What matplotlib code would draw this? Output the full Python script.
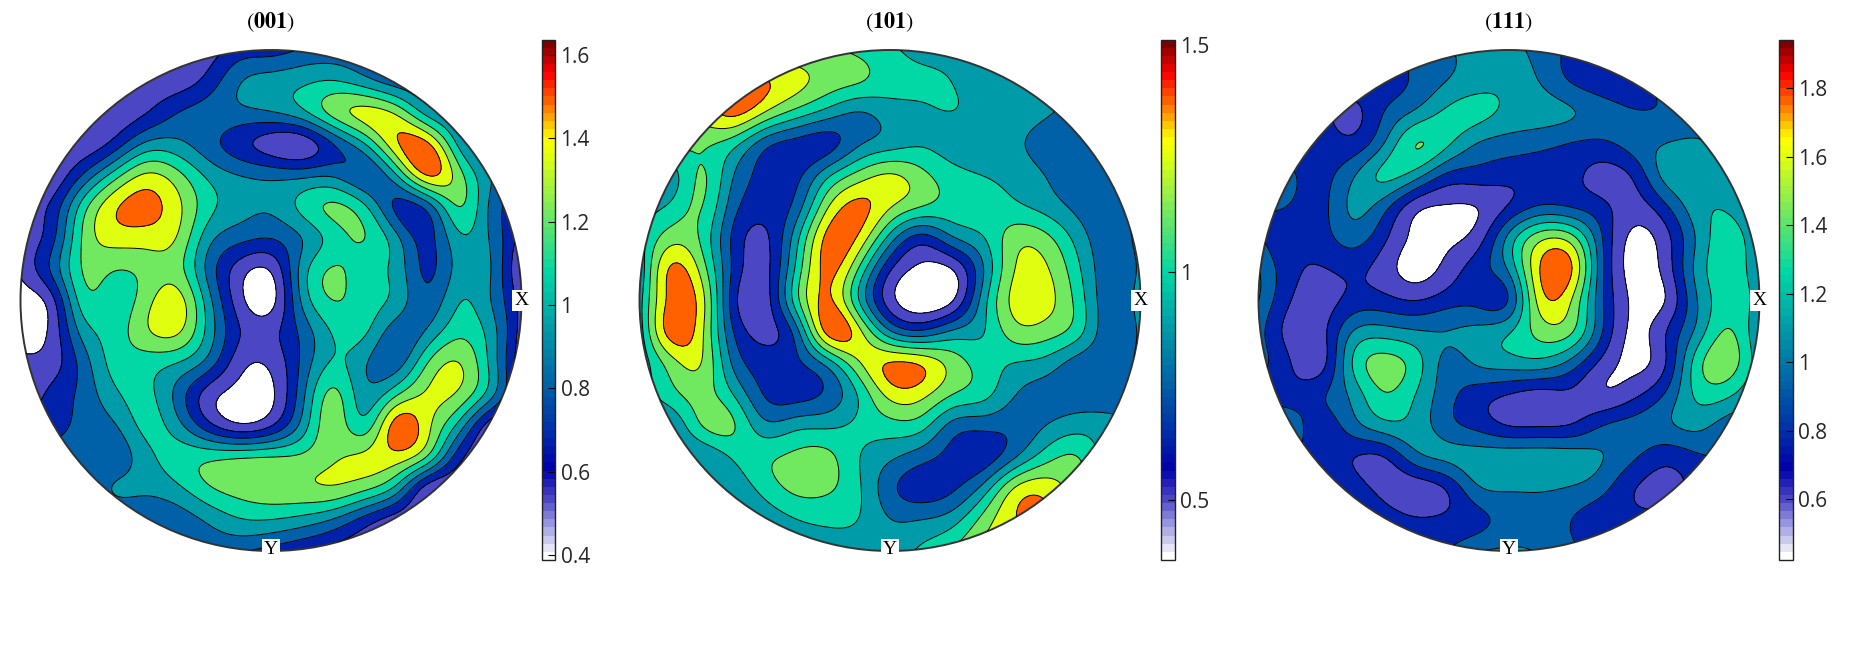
import numpy as np
import matplotlib
matplotlib.use('Agg')
import matplotlib.pyplot as plt
from matplotlib.colors import LinearSegmentedColormap, Normalize
from matplotlib.colorbar import Colorbar
from matplotlib.patches import Circle

plt.rcParams['mathtext.fontset'] = 'stix'

pf_001 = [
    [.60, .60, .60, .60, .60, .60, .60, .72, .74, .82, .85, .85, .85, .85, .85, .85, .85],
    [.60, .60, .60, .60, .60, .60, .72, .93, 1.0, 1.05, 1.09, 1.0, .88, .85, .85, .85, .85],
    [.60, .60, .60, .58, .66, .80, .87, .90, .93, 1.04, 1.27, 1.40, 1.33, 1.03, .90, .85, .85],
    [.60, .60, .58, .72, .97, .98, .86, .72, .60, .58, .81, 1.08, 1.47, 1.52, 1.05, .85, .85],
    [.55, .56, .82, 1.15, 1.38, 1.27, 1.05, .94, .90, .90, .92, .82, 1.07, 1.50, 1.28, .95, .85],
    [.60, .70, 1.15, 1.47, 1.55, 1.40, 1.13, 1.0, .97, 1.12, 1.24, 1.10, .78, .87, 1.22, .92, .70],
    [.58, .76, 1.24, 1.42, 1.43, 1.35, 1.0, .85, .81, .95, 1.15, 1.22, .98, .76, 1.05, .93, .60],
    [.55, .83, 1.23, 1.23, 1.27, 1.28, .90, .60, .55, 1.0, 1.23, 1.15, 1.03, .78, 1.0, .95, .50],
    [.45, .62, 1.15, 1.15, 1.30, 1.42, 1.0, .58, .48, .97, 1.22, 1.15, 1.03, .85, 1.07, .95, .60],
    [.45, .57, 1.0, 1.15, 1.33, 1.38, 1.03, .67, .62, .85, 1.10, 1.10, .87, .97, 1.18, 1.02, .60],
    [.55, .60, .87, 1.13, 1.15, 1.08, .88, .58, .56, .84, 1.10, .96, .88, 1.22, 1.36, 1.05, .55],
    [.55, .70, .85, 1.05, 1.12, .90, .60, .47, .50, .90, 1.25, 1.0, 1.20, 1.38, 1.33, 1.0, .55],
    [.75, .75, .85, .93, 1.12, 1.0, .72, .56, .66, 1.0, 1.30, 1.15, 1.56, 1.40, 1.03, .60, .55],
    [.80, .85, .87, .86, 1.03, 1.15, 1.18, 1.20, 1.22, 1.25, 1.34, 1.39, 1.44, 1.20, .72, .55, .55],
    [.85, .85, .85, .95, .97, 1.05, 1.20, 1.28, 1.32, 1.33, 1.34, 1.25, 1.03, .60, .55, .55, .55],
    [.85, .85, .85, .85, .85, .87, .97, 1.07, 1.08, 1.03, .93, .75, .60, .55, .55, .55, .55],
    [.85, .85, .85, .85, .85, .85, .85, .82, .75, .67, .60, .55, .55, .55, .55, .55, .55],
]
pf_101 = [
    [1.15, 1.15, 1.15, 1.15, 1.15, 1.15, 1.15, 1.10, 1.03, .96, .95, .93, .93, .93, .93, .93, .93],
    [1.20, 1.20, 1.20, 1.45, 1.40, 1.30, 1.20, 1.14, 1.06, 1.03, 1.0, .93, .93, .93, .93, .93, .93],
    [1.25, 1.25, 1.30, 1.42, 1.25, 1.08, .95, .87, .94, .98, 1.0, .96, .93, .89, .85, .93, .93],
    [1.15, 1.15, 1.15, 1.05, .80, .70, .70, .86, .95, .99, .95, .94, .90, .82, .80, .90, .93],
    [.95, .95, 1.14, .88, .70, .71, .97, 1.18, 1.27, 1.17, 1.05, 1.0, .95, .87, .80, .85, .93],
    [.95, 1.03, 1.13, .80, .67, .80, 1.24, 1.42, 1.27, 1.13, 1.08, 1.07, 1.03, .95, .84, .80, .93],
    [.95, 1.20, 1.10, .72, .60, .95, 1.42, 1.36, .95, .70, .86, 1.0, 1.20, 1.16, .95, .80, .93],
    [.90, 1.40, 1.20, .72, .58, 1.03, 1.42, 1.12, .64, .46, .50, .88, 1.26, 1.27, 1.03, .80, .90],
    [.95, 1.43, 1.30, .68, .56, 1.07, 1.41, 1.01, .55, .40, .49, .95, 1.30, 1.30, 1.08, .80, .93],
    [.93, 1.44, 1.28, .75, .58, .82, 1.42, 1.30, .90, .78, .90, 1.0, 1.20, 1.19, 1.05, .80, .90],
    [.90, 1.20, 1.25, .85, .68, .72, .93, 1.24, 1.39, 1.36, 1.20, 1.07, 1.0, .95, .82, .80, .90],
    [.93, 1.08, 1.18, 1.0, .74, .70, .78, 1.02, 1.30, 1.30, 1.13, 1.04, .88, .82, .80, .80, .85],
    [.90, .90, 1.13, 1.14, .92, .96, .98, 1.03, 1.08, 1.05, .83, .79, .79, .88, .95, .92, .85],
    [.90, .90, .90, 1.02, 1.10, 1.16, 1.16, 1.01, .90, .80, .70, .68, .87, 1.08, 1.13, .95, .90],
    [.90, .90, .93, .93, 1.05, 1.16, 1.15, 1.02, .79, .68, .73, .93, 1.27, 1.33, 1.20, 1.10, .90],
    [.90, .90, .90, .90, .93, 1.0, 1.03, 1.0, .88, .875, .95, 1.18, 1.38, 1.40, 1.30, 1.10, .90],
    [.93, .93, .93, .93, .93, .93, .93, .93, .93, 1.03, 1.15, 1.30, 1.35, 1.35, 1.30, 1.10, .90],
]
pf_111 = [
    [.90, .90, .90, .90, .90, 1.0, 1.08, 1.15, 1.15, 1.03, .90, .88, .88, .88, .88, .88, .88],
    [.85, .85, .85, .85, .85, .96, 1.10, 1.20, 1.22, 1.09, .92, .85, .89, .95, .95, .95, .95],
    [.80, .80, .80, .72, .93, 1.13, 1.30, 1.32, 1.22, 1.17, 1.11, 1.0, .94, .95, 1.0, 1.0, 1.0],
    [.85, .85, .85, .82, 1.10, 1.43, 1.30, 1.09, 1.02, .98, .92, .90, 1.0, 1.10, 1.12, 1.05, 1.0],
    [1.0, .95, .88, 1.07, 1.30, 1.18, .90, .85, .82, .82, .80, .70, .80, 1.15, 1.20, 1.15, 1.05],
    [.95, .92, .88, 1.13, 1.0, .66, .58, .60, .78, .95, .92, .80, .68, .90, 1.20, 1.24, 1.05],
    [.95, .82, .85, 1.0, .80, .55, .55, .68, 1.15, 1.55, 1.50, .92, .55, .70, 1.12, 1.35, 1.10],
    [1.10, .82, .75, .80, .68, .52, .65, .85, 1.13, 1.78, 1.78, .95, .52, .66, 1.15, 1.36, 1.15],
    [1.10, .77, .68, .82, .82, .76, .85, .88, .95, 1.68, 1.60, .94, .55, .60, 1.09, 1.35, 1.20],
    [1.0, .70, .70, 1.10, 1.18, 1.12, 1.10, 1.15, 1.25, 1.50, 1.45, .92, .55, .75, 1.15, 1.45, 1.10],
    [1.0, .77, .70, 1.27, 1.50, 1.35, 1.05, 1.12, 1.18, 1.20, 1.03, .70, .55, .76, 1.35, 1.52, 1.15],
    [.90, .84, .90, 1.15, 1.42, 1.27, 1.0, .85, .76, .70, .72, .62, .72, .95, 1.30, 1.30, 1.05],
    [1.10, 1.02, .85, 1.02, 1.20, 1.20, 1.0, .88, .76, .75, .78, .93, 1.0, 1.06, 1.14, 1.02, 1.0],
    [1.0, .95, .85, .77, .76, 1.03, 1.13, 1.18, 1.20, 1.20, 1.18, 1.10, .95, .82, .90, .95, 1.0],
    [.90, .90, .90, .85, .70, .66, .78, 1.07, 1.12, 1.12, 1.08, .97, .77, .72, .80, .90, 1.0],
    [.90, .90, .90, .90, .85, .78, .80, .88, 1.0, 1.02, .93, .83, .80, .80, .85, .90, 1.0],
    [.90, .90, .90, .90, .90, .90, .93, 1.08, 1.12, 1.08, .96, .88, .85, .85, .85, .90, 1.0],
]

titles = [r'$(\mathbf{001})$', r'$(\mathbf{101})$', r'$(\mathbf{111})$']
ranges = [(0.388, 1.637), (0.367, 1.512), (0.423, 1.942)]
cbar_ticks = [[0.4, 0.6, 0.8, 1, 1.2, 1.4, 1.6], [0.5, 1, 1.5], [0.6, 0.8, 1, 1.2, 1.4, 1.6, 1.8]]
cbar_labels = [['0.4', '0.6', '0.8', '1', '1.2', '1.4', '1.6'], ['0.5', '1', '1.5'],
               ['0.6', '0.8', '1', '1.2', '1.4', '1.6', '1.8']]

W, H = 1854, 656
centers = [(271, 300.5), (890, 300.5), (1509, 300.5)]
R = 250.5
cbar_x = [541.5, 1161, 1779]

# white to dark red, looks like the mtex white jet
anchors = [(0, '#ffffff'), (.111, '#4a46c4'), (.17, '#0000aa'), (.222, '#0022aa'), (.333, '#0060a8'),
           (.444, '#009ba8'), (.555, '#00d8a5'), (.667, '#70e860'), (.778, '#e0ff10'), (.815, '#ffff00'),
           (.889, '#ff6000'), (.94, '#ff0000'), (1, '#7f0000')]
cmap = LinearSegmentedColormap.from_list('whitejet', anchors, N=64)


def spline_matrix(n, m):
    # natural cubic spline from n knots to m fine points, as a matrix
    A = np.zeros((n, n))
    A[0, 0] = A[-1, -1] = 1
    for k in range(1, n - 1):
        A[k, k - 1:k + 2] = [1, 4, 1]
    rhs = np.zeros((n, n))
    for k in range(1, n - 1):
        rhs[k, k - 1:k + 2] = [6, -12, 6]
    d2 = np.linalg.solve(A, rhs)
    t = np.linspace(0, n - 1, m)
    j = np.minimum(t.astype(int), n - 2)
    a = j + 1 - t
    b = t - j
    B = np.zeros((m, n))
    for r in range(m):
        B[r, j[r]] += a[r]
        B[r, j[r] + 1] += b[r]
        B[r] += (a[r] ** 3 - a[r]) / 6 * d2[j[r]] + (b[r] ** 3 - b[r]) / 6 * d2[j[r] + 1]
    return B


fig = plt.figure(figsize=(W / 100, H / 100), dpi=100)
B = spline_matrix(17, 601)
fy, fx = np.mgrid[1:-1:601j, -1:1:601j]

for i, pf in enumerate([pf_001, pf_101, pf_111]):
    cx, cy = centers[i]
    ax = fig.add_axes([(cx - R - 4) / W, 1 - (cy + R + 4) / H, (2 * R + 8) / W, (2 * R + 8) / H])
    ax.set_xlim(-(R + 4) / R, (R + 4) / R)
    ax.set_ylim(-(R + 4) / R, (R + 4) / R)
    ax.axis('off')

    z = B @ np.array(pf) @ B.T

    vmin, vmax = ranges[i]
    levels = np.linspace(vmin, vmax, 10)
    colors = [cmap(k / 9) for k in range(9)]
    disc = Circle((0, 0), 1, transform=ax.transData)
    cs = ax.contourf(fx, fy, z, levels=[-9] + list(levels[1:-1]) + [9], colors=colors)
    cs.set_clip_path(disc)
    lines = ax.contour(fx, fy, z, levels=levels[1:-1], colors='k', linewidths=0.7)
    lines.set_clip_path(disc)
    ax.add_patch(Circle((0, 0), 1, fill=False, ec='#333333', lw=1.4))

    ax.text(1.0, 0.0, 'X', ha='center', va='center', family='Liberation Serif', fontsize=14,
            bbox=dict(fc='white', ec='none', pad=1.5), zorder=5)
    ax.text(0, -0.995, 'Y', ha='center', va='center', family='Liberation Serif', fontsize=14,
            bbox=dict(fc='white', ec='none', pad=1.5), zorder=5)
    ax.text(0, 1.11, titles[i], ha='center', va='center', fontsize=16)

    cax = fig.add_axes([cbar_x[i] / W, 1 - 560 / H, 13.5 / W, 520.5 / H])
    cb = Colorbar(cax, cmap=cmap, norm=Normalize(vmin, vmax), orientation='vertical')
    cb.set_ticks(cbar_ticks[i])
    cb.set_ticklabels(cbar_labels[i])
    cax.tick_params(axis='y', direction='in', length=5, width=0.8, labelsize=15, labelcolor='#262626',
                    pad=4, labelfontfamily='Open Sans')
    cb.outline.set_linewidth(1.0)
    cb.outline.set_edgecolor('#222222')

fig.savefig('out.png', dpi=100)
